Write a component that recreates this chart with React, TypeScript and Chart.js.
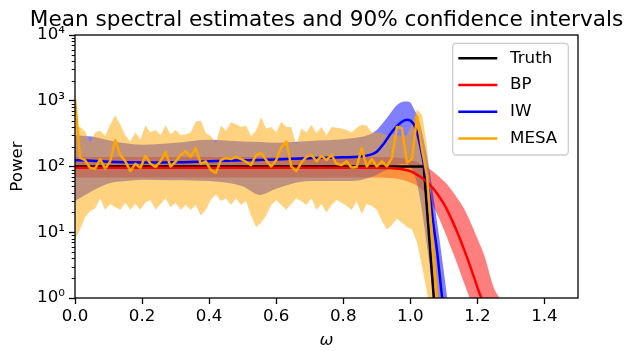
import React, { useEffect, useRef } from 'react';
import { Chart, registerables } from 'chart.js';

Chart.register(...registerables);

const FONT = 'DejaVu Sans';
const TITLE = 'Mean spectral estimates and 90% confidence intervals';
const X_LABEL = 'ω';
const Y_LABEL = 'Power';
const X_TICKS = [0, 0.2, 0.4, 0.6, 0.8, 1.0, 1.2, 1.4];
const Y_TICKS = [1, 10, 100, 1000, 10000];
const SERIES_NAMES = ['Truth', 'BP', 'IW', 'MESA'];

// Truth
const TRUTH_OMEGA = [0, 1.04, 1.07, 1.1];
const TRUTH_POWER = [100, 100, 1, 0.01];

// BP
const BP_OMEGA = [0, 0.1, 0.2, 0.3, 0.4, 0.5, 0.6, 0.7, 0.8, 0.9, 0.95, 0.98, 1.0, 1.03, 1.05, 1.07, 1.1, 1.12, 1.14, 1.16, 1.18, 1.2, 1.22, 1.25, 1.28, 1.3, 1.35, 1.4, 1.5];
const BP_MEAN = [96, 96, 96, 96, 96, 96, 96, 96, 96, 96, 94, 90, 85, 70, 58, 45, 27, 17, 10, 5.5, 2.9, 1.45, 0.75, 0.22, 0.06, 0.03, 0.003, 0.0003, 0.00001];
const BP_UPPER = [140, 140, 140, 140, 140, 140, 140, 140, 140, 140, 138, 133, 127, 110, 97, 82, 60, 46, 33, 23, 14, 8, 4.5, 1.4, 0.8, 0.5, 0.12, 0.02, 0.0005];
const BP_LOWER = [68, 68, 68, 68, 68, 68, 68, 68, 68, 68, 66, 62, 57, 47, 36, 24, 11, 6, 3.3, 1.7, 0.9, 0.45, 0.2, 0.05, 0.01, 0.004, 0.0003, 0.00002, 0.0000001];

// IW
const IW_OMEGA = [0, 0.05, 0.1, 0.15, 0.2, 0.3, 0.4, 0.5, 0.55, 0.6, 0.7, 0.8, 0.85, 0.88, 0.9, 0.92, 0.94, 0.96, 0.975, 0.99, 1.0, 1.01, 1.02, 1.03, 1.04, 1.05, 1.06, 1.07, 1.08, 1.09, 1.1, 1.12, 1.15];
const IW_MEAN = [125, 122, 118, 116, 115, 116, 120, 124, 126, 128, 134, 138, 142, 150, 168, 220, 310, 410, 480, 515, 500, 440, 330, 200, 110, 58, 30, 12, 5, 1.7, 0.6, 0.12, 0.008];
const IW_UPPER = [300, 285, 250, 225, 215, 230, 255, 240, 235, 230, 245, 260, 280, 310, 360, 470, 640, 860, 960, 975, 940, 760, 600, 420, 250, 140, 70, 32, 14, 6, 2.5, 0.4, 0.03];
const IW_LOWER = [30, 42, 55, 60, 63, 62, 60, 50, 37, 46, 60, 60, 62, 68, 75, 85, 95, 105, 110, 110, 100, 80, 55, 30, 14, 6, 2.5, 1, 0.4, 0.15, 0.05, 0.005, 0.0002];

// MESA (evenly spaced frequencies)
const MESA_STEP = 0.015;
const MESA_MEAN = [1050, 135, 125, 95, 92, 130, 92, 120, 250, 150, 120, 85, 110, 95, 145, 110, 98, 120, 165, 100, 118, 150, 170, 140, 190, 110, 120, 88, 80, 125, 135, 130, 140, 130, 118, 105, 150, 160, 125, 100, 125, 195, 240, 100, 85, 115, 140, 150, 120, 145, 125, 150, 110, 105, 120, 96, 98, 190, 100, 130, 100, 120, 100, 135, 400, 380, 115, 130, 580, 180, 71, 8, 0.8, 0.05];
const MESA_UPPER = [420, 400, 340, 230, 330, 350, 290, 430, 600, 430, 300, 240, 330, 260, 420, 330, 360, 300, 420, 310, 360, 300, 310, 330, 480, 500, 320, 290, 230, 420, 350, 470, 440, 400, 420, 290, 350, 560, 380, 400, 330, 480, 400, 400, 210, 380, 330, 430, 320, 400, 300, 400, 390, 380, 360, 330, 390, 430, 420, 330, 330, 320, 300, 310, 300, 290, 300, 450, 740, 600, 200, 25, 3, 0.3];
const MESA_LOWER = [7.8, 11, 17, 21, 23, 33, 22, 27, 24, 22, 28, 22, 27, 22, 28, 31, 22, 27, 33, 24, 28, 22, 26, 22, 26, 18, 22, 31, 38, 30, 33, 26, 33, 26, 30, 18, 12, 14, 18, 26, 31, 26, 22, 27, 33, 30, 26, 33, 22, 27, 20, 26, 31, 28, 25, 22, 30, 19, 27, 25, 22, 15, 11, 13, 16, 14, 12, 11, 7, 3, 1.2, 0.4, 0.08, 0.01];
const MESA_OMEGA = MESA_MEAN.map((_, i) => Math.round(i * MESA_STEP * 1000) / 1000);

const SUP: Record<number, string> = { 0: '⁰', 1: '¹', 2: '²', 3: '³', 4: '⁴' };

const pts = (xs: number[], ys: number[]) => xs.map((x, i) => ({ x, y: ys[i] }));

const titlePlugin = {
  id: 'axesTitle',
  afterDraw(chart: any) {
    const { ctx, chartArea: a } = chart;
    ctx.save();
    ctx.fillStyle = '#000';
    ctx.font = `21.6px "${FONT}"`;
    ctx.textAlign = 'center';
    ctx.textBaseline = 'alphabetic';
    ctx.fillText(TITLE, (a.left + a.right) / 2, a.top - 9);
    ctx.restore();
  },
};

const framePlugin = {
  id: 'frame',
  afterDatasetsDraw(chart: any) {
    const { ctx, chartArea: a, scales } = chart;
    const y = scales.y;
    ctx.save();
    ctx.strokeStyle = '#000';
    ctx.lineWidth = 1;
    ctx.beginPath();
    for (let k = 0; k < Y_TICKS.length - 1; k++) {
      for (let m = 2; m < 10; m++) {
        const py = Math.round(y.getPixelForValue(m * Y_TICKS[k])) + 0.5;
        ctx.moveTo(a.left - 3.3, py);
        ctx.lineTo(a.left, py);
      }
    }
    ctx.stroke();
    ctx.lineWidth = 1.3;
    ctx.strokeRect(a.left, a.top, a.right - a.left, a.bottom - a.top);
    ctx.restore();
  },
};

const legendPlugin = {
  id: 'boxLegend',
  afterDraw(chart: any) {
    const { ctx, chartArea: a } = chart;
    const items = chart.data.datasets.filter((d: any) => SERIES_NAMES.includes(d.label));
    const w = 115.6;
    const rowH = 26.7;
    const h = 15 + rowH * (items.length - 1) + 16.6;
    const x0 = a.right - 9.7 - w;
    const y0 = a.top + 8.3;
    ctx.save();
    ctx.beginPath();
    ctx.roundRect(x0, y0, w, h, 3.5);
    ctx.fillStyle = 'rgba(255,255,255,0.8)';
    ctx.fill();
    ctx.strokeStyle = '#cccccc';
    ctx.lineWidth = 1.3;
    ctx.stroke();
    items.forEach((d: any, i: number) => {
      const cy = y0 + 15 + i * rowH;
      ctx.strokeStyle = d.borderColor;
      ctx.lineWidth = d.borderWidth;
      ctx.beginPath();
      ctx.moveTo(x0 + 5.6, cy);
      ctx.lineTo(x0 + 44.6, cy);
      ctx.stroke();
      ctx.fillStyle = '#000';
      ctx.font = `16.7px "${FONT}"`;
      ctx.textBaseline = 'middle';
      ctx.textAlign = 'left';
      ctx.fillText(d.label, x0 + 57.3, cy);
    });
    ctx.restore();
  },
};

export default function App() {
  const ref = useRef<HTMLCanvasElement | null>(null);
  useEffect(() => {
    if (!ref.current) return;
    const line = (label: string, data: any[], color: string, order: number, smooth: boolean) => ({
      label,
      data,
      borderColor: color,
      backgroundColor: color,
      borderWidth: 2.5,
      borderJoinStyle: 'round',
      pointRadius: 0,
      fill: false,
      order,
      clip: 0,
      tension: 0,
      cubicInterpolationMode: smooth ? 'monotone' : 'default',
    });
    const band = (data: any[], fill: any, color: string, order: number, smooth: boolean) => ({
      label: '',
      data,
      borderColor: 'transparent',
      backgroundColor: color,
      borderWidth: 0,
      pointRadius: 0,
      fill,
      order,
      clip: 0,
      tension: 0,
      cubicInterpolationMode: smooth ? 'monotone' : 'default',
    });
    const chart = new Chart(ref.current, {
      type: 'line',
      data: {
        datasets: [
          line(SERIES_NAMES[0], pts(TRUTH_OMEGA, TRUTH_POWER), '#000000', 4, false),
          line(SERIES_NAMES[1], pts(BP_OMEGA, BP_MEAN), '#ff0000', 3, true),
          line(SERIES_NAMES[2], pts(IW_OMEGA, IW_MEAN), '#0000ff', 2, true),
          line(SERIES_NAMES[3], pts(MESA_OMEGA, MESA_MEAN), '#ffa500', 1, false),
          band(pts(BP_OMEGA, BP_UPPER), 5, 'rgba(255,0,0,0.5)', 10, true),
          band(pts(BP_OMEGA, BP_LOWER), false, 'rgba(255,0,0,0.5)', 10, true),
          band(pts(IW_OMEGA, IW_UPPER), 7, 'rgba(0,0,255,0.5)', 9, true),
          band(pts(IW_OMEGA, IW_LOWER), false, 'rgba(0,0,255,0.5)', 9, true),
          band(pts(MESA_OMEGA, MESA_UPPER), 9, 'rgba(255,165,0,0.5)', 8, false),
          band(pts(MESA_OMEGA, MESA_LOWER), false, 'rgba(255,165,0,0.5)', 8, false),
        ] as any,
      },
      options: {
        responsive: false,
        animation: false,
        devicePixelRatio: 1,
        layout: { padding: { left: 0, right: 47, top: 35, bottom: 0 } },
        plugins: {
          legend: { display: false },
          tooltip: { enabled: false },
          title: { display: false },
          filler: { drawTime: 'beforeDatasetsDraw', propagate: false },
        } as any,
        scales: {
          x: {
            type: 'linear',
            min: 0,
            max: 1.5,
            afterBuildTicks: (s: any) => {
              s.ticks = X_TICKS.map((v) => ({ value: v }));
            },
            ticks: {
              callback: (v: any) => Number(v).toFixed(1),
              font: { family: FONT, size: 16.7 },
              color: '#000',
              padding: 3,
              maxRotation: 0,
              autoSkip: false,
            },
            grid: { drawOnChartArea: false, tickLength: 6, tickWidth: 1.3, tickColor: '#000' },
            border: { display: false },
            title: {
              display: true,
              text: X_LABEL,
              color: '#000',
              font: { family: FONT, size: 16.7, style: 'italic' },
              padding: { top: 0, bottom: 0 },
            },
            afterFit: (s: any) => {
              s.height = 53;
            },
          },
          y: {
            type: 'logarithmic',
            min: 1,
            max: 10000,
            afterBuildTicks: (s: any) => {
              s.ticks = Y_TICKS.map((v) => ({ value: v, major: true }));
            },
            ticks: {
              callback: (v: any) => '10' + SUP[Math.round(Math.log10(Number(v)))],
              font: { family: FONT, size: 16.7 },
              color: '#000',
              padding: 4,
              autoSkip: false,
            },
            grid: { drawOnChartArea: false, tickLength: 6, tickWidth: 1.3, tickColor: '#000' },
            border: { display: false },
            title: {
              display: true,
              text: Y_LABEL,
              color: '#000',
              font: { family: FONT, size: 16.7 },
              padding: { top: 8, bottom: 0 },
            },
            afterFit: (s: any) => {
              s.width = 75;
            },
          },
        } as any,
      },
      plugins: [framePlugin, legendPlugin, titlePlugin],
    } as any);
    return () => chart.destroy();
  }, []);
  return (
    <div style={{ position: 'absolute', left: 0, top: 0, width: 625, height: 351, background: '#fff' }}>
      <canvas ref={ref} width={625} height={351} />
    </div>
  );
}
